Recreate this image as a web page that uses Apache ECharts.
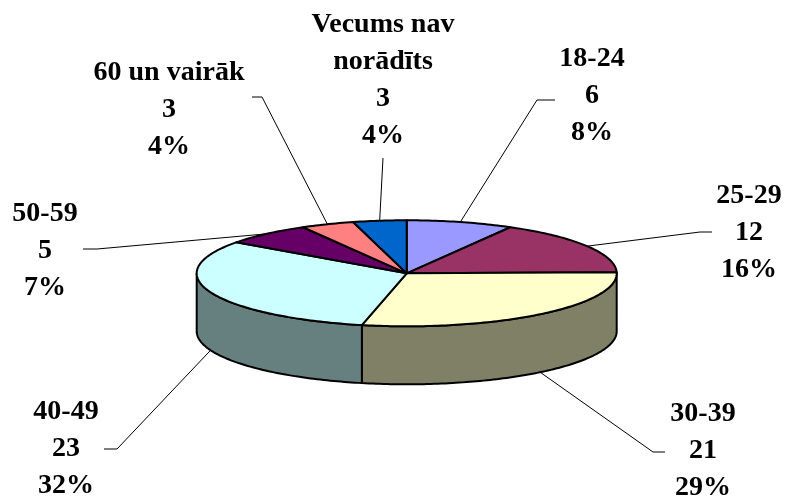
<!DOCTYPE html>
<html><head><meta charset="utf-8">
<script src="https://cdn.jsdelivr.net/npm/echarts@6/dist/echarts.min.js"></script>
<style>html,body{margin:0;padding:0;background:#fff}#c{width:787px;height:500px}</style>
</head><body><div id="c"></div>
<script>
// ---- data ----
const categories = ['18-24', '25-29', '30-39', '40-49', '50-59', '60 un vairāk', 'Vecums nav norādīts'];
const labelNames = ['18-24', '25-29', '30-39', '40-49', '50-59', '60 un vairāk', 'Vecums nav\nnorādīts'];
const values = [6, 12, 21, 23, 5, 3, 3];

// ---- style / layout ----
const topColors = ['#9999FF', '#993366', '#FFFFCC', '#CCFFFF', '#660066', '#FF8080', '#0066CC'];
const CX = 406.7, CY = 273.3, RX = 210, RY = 53, DEPTH = 58;
const labelPos = [[592, 96], [749, 233], [703, 451], [66, 449], [45, 251], [169, 110], [383, 80]];
const leaderBends = [
  [[537, 100], [555, 100]],
  [[700, 232], [712, 232]],
  [[653, 452], [665, 452]],
  [[117, 449], [104, 449]],
  [[97, 249], [83, 249]],
  [[262, 97], [252, 97]],
  [[383, 158]]
];
const LABEL_FONT = 'bold 28px Liberation Serif';

function shade(hex, f) {
  const n = parseInt(hex.slice(1), 16);
  const r = Math.round(((n >> 16) & 255) * f), g = Math.round(((n >> 8) & 255) * f), b = Math.round((n & 255) * f);
  return 'rgb(' + r + ',' + g + ',' + b + ')';
}
function pt(t, dy) { return [CX + RX * Math.sin(t), CY - RY * Math.cos(t) + (dy || 0)]; }
function arc(a, b, dy) {
  const pts = [];
  const n = Math.max(2, Math.ceil(Math.abs(b - a) / (Math.PI / 180)));
  for (let k = 0; k <= n; k++) pts.push(pt(a + (b - a) * k / n, dy));
  return pts;
}

const total = values.reduce((s, v) => s + v, 0);
const starts = [];
{ let c = 0; for (const v of values) { starts.push(c); c += v; } }

function renderItem(params, api) {
  const i = params.dataIndex;
  const v = api.value(0);
  const s = starts[i] / total * 2 * Math.PI;
  const e = (starts[i] + v) / total * 2 * Math.PI;
  const children = [];
  const a = Math.max(s, Math.PI / 2), b = Math.min(e, 3 * Math.PI / 2);
  if (b > a) {
    const pts = arc(a, b, 0).concat(arc(b, a, DEPTH));
    children.push({
      type: 'polygon', z2: 1,
      shape: { points: pts },
      style: { fill: shade(topColors[i], 0.5), stroke: '#000', lineWidth: 2, lineJoin: 'round' }
    });
  }
  children.push({
    type: 'polygon', z2: 5,
    shape: { points: [[CX, CY]].concat(arc(s, e, 0)) },
    style: { fill: topColors[i], stroke: '#000', lineWidth: 2, lineJoin: 'round' }
  });
  const mid = (s + e) / 2;
  const front = Math.cos(mid) < 0;
  const anchor = pt(mid, front ? DEPTH : 0);
  children.push({
    type: 'polyline', z2: 0,
    shape: { points: [anchor].concat(leaderBends[i]) },
    style: { stroke: '#000', lineWidth: 1, fill: null }
  });
  const pct = Math.round(v / total * 100);
  children.push({
    type: 'text', z2: 20,
    style: {
      text: labelNames[i] + '\n' + v + '\n' + pct + '%',
      x: labelPos[i][0], y: labelPos[i][1],
      align: 'center', verticalAlign: 'middle',
      font: LABEL_FONT,
      lineHeight: 37, fill: '#000'
    }
  });
  return { type: 'group', children: children };
}

const chart = echarts.init(document.getElementById('c'), null, { renderer: 'canvas' });
chart.setOption({
  animation: false,
  backgroundColor: '#fff',
  series: [{
    type: 'custom',
    coordinateSystem: 'none',
    renderItem: renderItem,
    data: values.map((v, i) => ({ name: categories[i], value: [v] }))
  }]
});
</script>
</body></html>
